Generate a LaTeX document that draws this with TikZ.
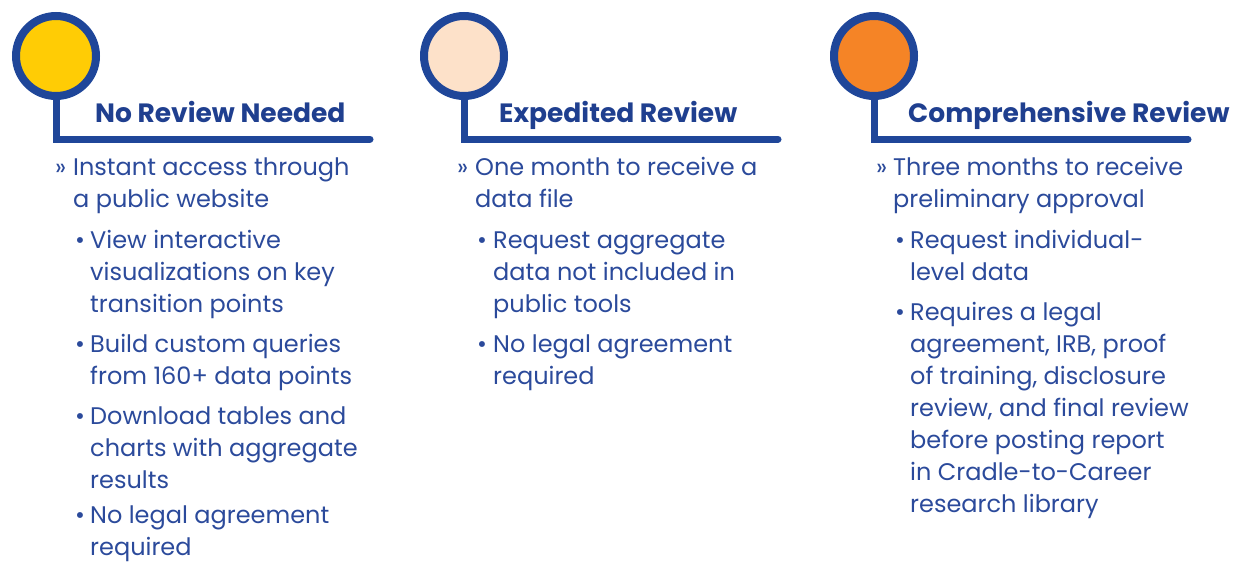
\documentclass[tikz,border=0pt]{standalone}
\usepackage{fontspec}
\setmainfont{Poppins}
\usetikzlibrary{positioning}

\definecolor{ringblue}{HTML}{1F4699}
\definecolor{titleblue}{HTML}{1F3F8F}
\definecolor{textblue}{HTML}{2B4A9B}
\definecolor{dotyellow}{HTML}{FFCC05}
\definecolor{dotpeach}{HTML}{FDE1C9}
\definecolor{dotorange}{HTML}{F58426}

\begin{document}
\begin{tikzpicture}[x=1pt, y=-1pt,
    ring/.style={circle, draw=ringblue, line width=8pt, minimum size=80pt, inner sep=0pt},
    stem/.style={draw=ringblue, line width=7pt, line cap=round},
    title/.style={anchor=base west, inner sep=0pt, text=titleblue, font=\bfseries\fontsize{26.5}{30}\selectfont},
    tick/.style={anchor=base west, inner sep=0pt, text=textblue, font=\fontsize{24}{32}\selectfont},
    body/.style={anchor=base west, inner sep=0pt, text=textblue, font=\fontsize{24}{32}\selectfont}]
  \useasboundingbox (0,0) rectangle (1234,563);

  % no review
  \node[ring, fill=dotyellow] (c1) at (56,56) {};
  \coordinate (e1) at (370,139);
  \draw[stem] (c1.south) |- (e1);
  \node[title] (t1) at (95,122) {No Review Needed};
  \node[tick] (m1) at (55,175) {»};
  \node[body] (i1) at (73,175) {\parbox[t]{300pt}{Instant access through\\a public website}};
  \node[tick] (m11) at (75,248) {•};
  \node[body] (i11) at (90,248) {\parbox[t]{300pt}{View interactive\\visualizations on key\\transition points}};
  \node[tick] (m12) at (75,352) {•};
  \node[body] (i12) at (90,352) {\parbox[t]{300pt}{Build custom queries\\from 160+ data points}};
  \node[tick] (m13) at (75,424) {•};
  \node[body] (i13) at (90,424) {\parbox[t]{300pt}{Download tables and\\charts with aggregate\\results}};
  \node[tick] (m14) at (75,523) {•};
  \node[body] (i14) at (90,523) {\parbox[t]{300pt}{No legal agreement\\required}};

  % expedited
  \node[ring, fill=dotpeach] (c2) at (464,56) {};
  \coordinate (e2) at (778,139);
  \draw[stem] (c2.south) |- (e2);
  \node[title] (t2) at (499,122) {Expedited Review};
  \node[tick] (m2) at (457,175) {»};
  \node[body] (i2) at (475,175) {\parbox[t]{300pt}{One month to receive a\\data file}};
  \node[tick] (m21) at (477,248) {•};
  \node[body] (i21) at (493,248) {\parbox[t]{300pt}{Request aggregate\\data not included in\\public tools}};
  \node[tick] (m22) at (477,352) {•};
  \node[body] (i22) at (493,352) {\parbox[t]{300pt}{No legal agreement\\required}};

  % comprehensive
  \node[ring, fill=dotorange] (c3) at (874,56) {};
  \coordinate (e3) at (1188,139);
  \draw[stem] (c3.south) |- (e3);
  \node[title] (t3) at (908,122) {Comprehensive Review};
  \node[tick] (m3) at (876,175) {»};
  \node[body] (i3) at (893,175) {\parbox[t]{300pt}{Three months to receive\\preliminary approval}};
  \node[tick] (m31) at (895,248) {•};
  \node[body] (i31) at (910,248) {\parbox[t]{300pt}{Request individual-\\level data}};
  \node[tick] (m32) at (895,320) {•};
  \node[body] (i32) at (910,320) {\parbox[t]{300pt}{Requires a legal\\agreement, IRB, proof\\of training, disclosure\\review, and final review\\before posting report\\in Cradle-to-Career\\research library}};
\end{tikzpicture}
\end{document}
